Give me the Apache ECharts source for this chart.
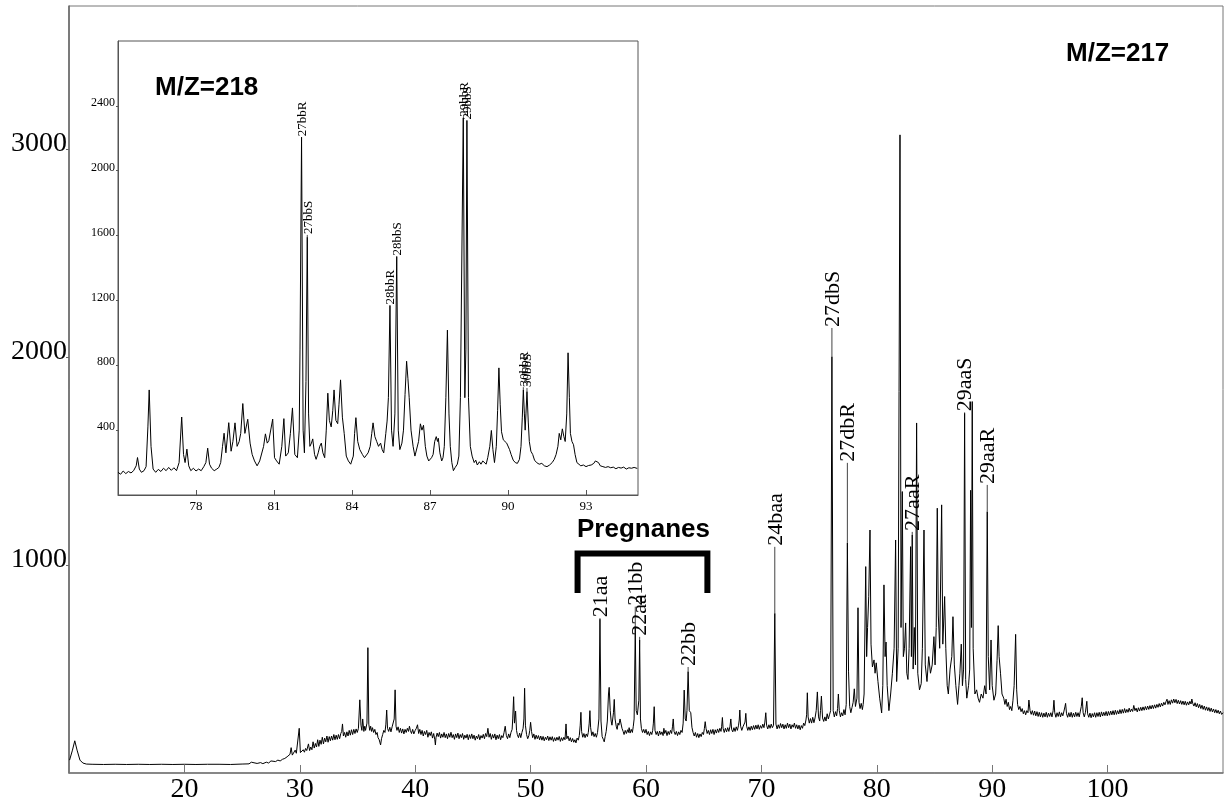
<!DOCTYPE html>
<html>
<head>
<meta charset="utf-8">
<script src="https://cdn.jsdelivr.net/npm/echarts@6/dist/echarts.min.js"></script>
<style>
  html, body { margin: 0; padding: 0; background: #fff; }
  #chart { width: 1226px; height: 809px; }
</style>
</head>
<body>
<div id="chart"></div>
<script>
// ---- m/z 217 trace: [retention time (min), abundance] ----
const mainEarly = [
  [10.05,62],[10.3,110],[10.5,155],[10.7,110],[10.95,62],[11.2,48],[11.5,43],[12,42],[13,41],[14,42],[15,41],[16,42],[17,41],[18,42],[19,41],[20,42],[21,41],[22,42],[23,42],[24,41],[25,43],
  [25.6,44],[25.8,52],[25.9,44],[26.3,46],[26.6,50],[26.8,45],[27.1,52],[27.3,48],[27.5,58],[27.6,50],[27.9,55],[28.1,62],[28.3,58],[28.5,66],[28.7,70],[28.9,78],[29.0,74],[29.15,90],[29.25,122],[29.35,86],
  [29.5,92],[29.6,110],[29.7,95],[29.85,102],[29.95,215],[30.05,98],[30.2,96],[30.3,112],[30.4,100],[30.5,118],[30.6,108],[30.75,140],[30.85,108],[30.95,125],[31.05,112],[31.15,150],[31.25,120],[31.35,142],
  [31.45,125],[31.55,160],[31.65,128],[31.75,158],[31.85,138],[31.95,172],[32.05,140],[32.15,168],[32.25,150],[32.35,178],[32.45,148],[32.55,175],[32.65,155],[32.75,178],[32.85,158],[32.95,185],
  [33.05,160],[33.15,182],[33.25,162],[33.35,185],[33.45,165],[33.55,190],[33.63,200],[33.7,236],[33.78,178],[33.88,195],[33.98,172],[34.08,198],[34.18,178],[34.28,205],[34.38,182],[34.48,208],
  [34.58,185],[34.68,210],[34.78,190],[34.88,212],[34.98,195],[35.08,215],[35.2,352],[35.3,230],[35.38,205],[35.45,260],[35.55,200],[35.63,225],[35.7,205],[35.82,240],[35.9,603],[35.98,235],
  [36.06,205],[36.14,225],[36.22,200],[36.3,218],[36.4,195],[36.5,210],[36.6,185],[36.7,195],[36.78,170],[36.88,160],[36.95,145],[37.0,135],[37.08,165],[37.18,185],[37.28,205],[37.38,195],[37.46,235],
  [37.53,303],[37.6,215],[37.7,200],[37.8,220],[37.9,198],[38.0,222],[38.1,230],[38.18,260],[38.26,400],[38.34,225],[38.42,205],[38.52,222],[38.62,195],[38.72,215],[38.82,192],[38.92,212],
  [39.02,188],[39.12,210],[39.22,195],[39.32,215],[39.42,200],[39.5,225],[39.58,205],[39.68,190],[39.78,210],[39.88,188],[40.0,205]
];
const mainPregnane = [
  [40.1,215],[40.2,232],[40.3,190],[40.4,210],[40.5,185],[40.6,205],[40.7,178],[40.8,200],[40.9,185],[41.0,205],[41.1,172],[41.2,195],[41.3,180],[41.4,198],[41.5,168],[41.6,190],[41.7,160],[41.75,135],
  [41.8,170],[41.9,192],[42.0,175],[42.1,195],[42.2,168],[42.3,188],[42.4,172],[42.5,195],[42.6,170],[42.7,188],[42.8,165],[42.9,190],[43.0,172],[43.1,196],[43.2,170],[43.3,185],[43.4,162],[43.5,188],
  [43.6,170],[43.7,192],[43.8,165],[43.9,185],[44.0,170],[44.1,190],[44.2,162],[44.3,182],[44.4,168],[44.5,186],[44.6,160],[44.7,184],[44.8,166],[44.9,188],[45.0,165],[45.1,182],[45.2,158],[45.3,178],
  [45.4,165],[45.5,185],[45.6,160],[45.7,180],[45.8,168],[45.9,186],[46.0,165],[46.1,190],[46.2,175],[46.3,215],[46.4,172],[46.5,190],[46.6,162],[46.7,185],[46.8,168],[46.9,188],[47.0,160],[47.1,182],
  [47.2,165],[47.3,185],[47.4,160],[47.5,180],[47.6,170],[47.7,195],[47.8,225],[47.9,180],[48.0,165],[48.1,188],[48.2,170],[48.3,195],[48.4,210],[48.45,260],[48.53,367],[48.6,240],[48.7,298],
  [48.78,205],[48.85,185],[48.95,170],[49.05,192],[49.15,170],[49.25,195],[49.35,215],[49.42,260],[49.48,408],[49.55,230],[49.65,185],[49.75,165],[49.85,180],[49.93,205],[50.0,244],[50.08,200],
  [50.18,170],[50.28,188],[50.38,162],[50.48,182],[50.58,165],[50.68,180],[50.78,160],[50.88,178],[50.98,158],[51.08,176],[51.18,155],[51.28,172],[51.38,160],[51.48,178],[51.58,156],[51.68,174],
  [51.78,158],[51.88,175],[51.98,152],[52.08,170],[52.18,155],[52.28,172],[52.38,158],[52.48,176],[52.58,152],[52.68,170],[52.78,156],[52.88,172],[52.98,160],[53.07,236],[53.14,165],[53.24,178],
  [53.34,155],[53.44,170],[53.54,150],[53.64,166],[53.74,148],[53.84,160],[53.93,145],[54.03,168],[54.13,158],[54.22,180],[54.3,230],[54.36,292],[54.42,200],[54.52,172],[54.62,190],[54.72,170],
  [54.82,188],[54.92,175],[55.0,195],[55.08,240],[55.14,300],[55.2,220],[55.3,180],[55.4,198],[55.5,175],[55.6,190],[55.7,172],[55.8,195],[55.92,260],[56.01,740],[56.1,250],[56.2,175],[56.3,162],
  [56.38,150],[56.46,175],[56.55,200],[56.65,250],[56.75,380],[56.81,412],[56.9,300],[56.98,250],[57.05,230],[57.18,290],[57.25,354],[57.32,260],[57.42,225],[57.5,210],[57.58,240],[57.65,230],
  [57.75,260],[57.82,265],[57.92,215],[58.02,200],[58.1,185],[58.2,205],[58.3,190],[58.4,208],[58.47,195],[58.54,218],[58.62,192],[58.72,210],[58.82,195],[58.9,225],[58.97,260],[59.07,698],
  [59.15,300],[59.25,280],[59.38,350],[59.45,640],[59.52,260],[59.6,215],[59.7,195],[59.8,210],[59.9,192],[60.0,210],[60.1,185],[60.2,200],[60.3,180],[60.4,198],[60.5,185],[60.58,205],[60.64,240],
  [60.71,319],[60.78,205],[60.88,185],[60.98,200],[61.08,178],[61.18,202],[61.28,185],[61.38,198],[61.48,180],[61.55,215],[61.62,190],[61.72,205],[61.82,180],[61.92,200],[62.02,185],[62.12,205],
  [62.22,190],[62.3,225],[62.36,260],[62.43,200],[62.53,185],[62.63,200],[62.73,180],[62.83,198],[62.93,185],[63.03,205],[63.13,195],[63.22,240],[63.31,399],[63.4,260],[63.48,250],[63.55,300],
  [63.65,488],[63.75,300],[63.88,290],[63.98,220],[64.08,195],[64.18,178],[64.28,195],[64.38,172],[64.48,190],[64.58,170],[64.68,188],[64.78,175],[64.88,195],[64.98,185],[65.06,215],[65.13,247],
  [65.2,215],[65.3,190],[65.4,205],[65.5,185],[65.6,208],[65.7,190],[65.8,210],[65.9,185],[66.0,208],[66.1,192],[66.2,212],[66.3,195],[66.4,215],[66.5,200],[66.56,225],[66.62,267],[66.68,215],
  [66.78,195],[66.88,215],[66.98,198],[67.08,218],[67.18,200],[67.28,225],[67.35,260],[67.42,210],[67.52,198],[67.62,218],[67.72,200],[67.82,222],[67.92,205],[68.02,230],[68.08,255],[68.13,303],
  [68.2,225],[68.3,205],[68.4,222],[68.5,215],[68.58,245],[68.65,287],[68.72,225],[68.82,205],[68.92,222],[69.02,205],[69.12,225],[69.22,208],[69.32,228],[69.42,210],[69.52,230],[69.62,212],
  [69.72,232],[69.82,210],[69.92,228],[70.02,215],[70.12,235],[70.22,218],[70.3,245],[70.38,290],[70.45,230],[70.55,212],[70.65,232],[70.75,215],[70.85,235],[70.95,218]
];
const mainSterane = [
  [71.05,230],[71.16,768],[71.26,235],[71.36,212],[71.46,232],[71.56,215],[71.66,238],[71.76,218],[71.86,235],[71.96,212],[72.06,232],[72.16,215],[72.26,240],[72.36,218],[72.46,235],[72.56,212],
  [72.66,232],[72.76,220],[72.86,240],[72.96,215],[73.06,232],[73.16,212],[73.26,230],[73.36,208],[73.46,228],[73.56,215],[73.66,240],[73.76,228],[73.86,255],[73.92,280],[73.98,386],[74.05,270],
  [74.15,240],[74.25,262],[74.35,240],[74.45,268],[74.55,242],[74.65,265],[74.75,300],[74.85,390],[74.95,270],[75.05,250],[75.12,300],[75.2,370],[75.3,265],[75.4,248],[75.5,270],[75.6,250],
  [75.7,285],[75.8,260],[75.9,280],[76.0,300],[76.11,2003],[76.22,300],[76.32,270],[76.42,295],[76.52,275],[76.6,310],[76.67,380],[76.75,300],[76.85,270],[76.95,290],[77.05,275],[77.15,305],
  [77.25,280],[77.35,330],[77.45,1107],[77.55,490],[77.65,320],[77.75,290],[77.85,315],[77.95,340],[78.05,405],[78.15,320],[78.28,360],[78.37,795],[78.46,340],[78.55,310],[78.65,335],[78.75,305],
  [78.82,330],[78.9,380],[79.04,993],[79.12,560],[79.2,700],[79.3,850],[79.41,1169],[79.5,620],[79.62,510],[79.76,544],[79.85,480],[79.95,530],[80.1,440],[80.25,360],[80.42,289],[80.52,420],
  [80.62,905],[80.72,560],[80.8,630],[80.9,420],[81.05,300],[81.2,380],[81.35,480],[81.5,600],[81.63,1121],[81.72,440],[81.85,600],[82.01,3070],[82.1,700],[82.21,1354],[82.3,560],[82.4,600],
  [82.5,722],[82.6,480],[82.7,450],[82.8,600],[82.93,1089],[83.0,560],[83.07,1145],[83.15,500],[83.25,700],[83.35,520],[83.45,1684],[83.55,480],[83.7,400],[83.85,430],[83.95,600],[84.09,1169],
  [84.2,520],[84.35,440],[84.5,560],[84.65,480],[84.8,520],[84.95,656],[85.05,520],[85.15,700],[85.24,1274],[85.33,760],[85.45,600],[85.62,1290],[85.72,620],[85.88,849],[85.98,600],[86.1,420],
  [86.2,380],[86.35,500],[86.5,560],[86.6,752],[86.72,520],[86.85,420],[87.0,330],[87.12,420],[87.2,480],[87.32,620],[87.42,420],[87.52,500],[87.61,1731],[87.7,450],[87.8,360],[87.95,420],
  [88.05,500],[88.13,1360],[88.2,700],[88.27,1787],[88.35,600],[88.5,380],[88.65,400],[88.78,360],[88.9,340],[89.05,380],[89.2,360],[89.35,420],[89.47,380],[89.57,1257],[89.66,560],[89.78,400],
  [89.9,640],[90.0,420],[90.15,350],[90.3,380],[90.42,540],[90.52,709],[90.6,560],[90.72,480],[90.85,380],[91.0,360],[91.1,330],[91.2,355],[91.3,320],[91.4,340],[91.5,305],[91.6,320],[91.7,300],
  [91.8,350],[91.9,420],[92.03,667],[92.12,400],[92.2,330],[92.3,305],[92.4,320],[92.5,295],[92.6,310],[92.7,285],[92.8,300],[92.9,280],[93.0,300],[93.1,290]
];
const mainLate = [
  [93.18,351],[93.28,300],[93.38,282],[93.48,300],[93.58,278],[93.68,298],[93.78,275],[93.88,295],[93.98,272],[94.08,292],[94.18,270],[94.28,290],[94.38,268],[94.48,288],[94.58,270],[94.68,292],
  [94.78,268],[94.88,288],[94.98,272],[95.08,290],[95.18,270],[95.28,300],[95.35,350],[95.42,290],[95.52,268],[95.62,290],[95.72,272],[95.82,294],[95.92,270],[96.02,290],[96.12,275],[96.22,298],
  [96.3,318],[96.36,335],[96.44,285],[96.54,268],[96.64,290],[96.74,270],[96.84,292],[96.94,268],[97.04,288],[97.14,270],[97.24,292],[97.34,272],[97.44,290],[97.54,270],[97.64,298],[97.72,320],
  [97.8,362],[97.88,290],[97.98,270],[98.08,292],[98.14,318],[98.2,345],[98.27,285],[98.37,268],[98.47,288],[98.57,266],[98.67,286],[98.77,270],[98.87,290],[98.97,268],[99.07,290],[99.17,272],
  [99.27,292],[99.37,270],[99.47,294],[99.57,274],[99.67,292],[99.77,276],[99.87,296],[99.97,275],[100.07,296],[100.17,278],[100.27,298],[100.37,280],[100.47,300],[100.57,280],[100.67,302],
  [100.77,282],[100.87,300],[100.97,284],[101.07,305],[101.17,286],[101.27,306],[101.37,288],[101.47,310],[101.57,290],[101.67,306],[101.77,292],[101.87,312],[101.97,294],[102.07,308],[102.17,296],
  [102.27,325],[102.37,300],[102.47,312],[102.57,294],[102.67,314],[102.77,298],[102.87,316],[102.97,300],[103.07,318],[103.17,302],[103.27,320],[103.37,304],[103.47,322],[103.57,306],[103.67,324],
  [103.77,308],[103.87,326],[103.97,310],[104.07,328],[104.17,312],[104.27,330],[104.37,316],[104.47,334],[104.57,318],[104.67,336],[104.77,322],[104.87,340],[104.97,328],[105.07,345],[105.15,355],
  [105.23,330],[105.33,348],[105.43,330],[105.53,352],[105.63,336],[105.73,356],[105.83,338],[105.93,354],[106.03,334],[106.13,350],[106.23,332],[106.33,348],[106.43,330],[106.53,346],[106.63,328],
  [106.73,345],[106.83,326],[106.93,342],[107.03,328],[107.13,345],[107.23,332],[107.3,356],[107.38,335],[107.48,322],[107.58,338],[107.68,318],[107.78,334],[107.88,314],[107.98,330],[108.08,310],
  [108.18,326],[108.28,306],[108.38,322],[108.48,302],[108.58,318],[108.68,300],[108.78,315],[108.88,296],[108.98,312],[109.08,294],[109.18,308],[109.28,290],[109.38,305],[109.48,288],[109.58,302],
  [109.68,285],[109.78,298],[109.88,282],[110.0,290]
];

// ---- m/z 218 trace (inset) ----
const insetTrace = [
  [75.0,140],[75.1,128],[75.2,148],[75.3,132],[75.4,145],[75.5,136],[75.6,150],[75.7,180],[75.75,231],[75.82,160],[75.9,140],[76.0,150],[76.08,175],[76.15,420],[76.2,648],[76.27,300],[76.35,160],
  [76.45,140],[76.55,158],[76.65,145],[76.75,165],[76.85,150],[76.95,170],[77.05,152],[77.15,168],[77.25,150],[77.35,200],[77.45,481],[77.52,250],[77.58,200],[77.65,283],[77.72,180],[77.8,150],
  [77.9,165],[78.0,148],[78.1,160],[78.2,150],[78.3,175],[78.38,200],[78.45,289],[78.52,190],[78.6,165],[78.7,150],[78.8,160],[78.88,170],[78.95,200],[79.02,300],[79.08,381],[79.15,260],
  [79.26,446],[79.35,270],[79.42,330],[79.5,445],[79.58,300],[79.66,330],[79.72,380],[79.8,564],[79.88,380],[79.99,467],[80.08,320],[80.16,250],[80.25,210],[80.35,180],[80.45,210],[80.52,200],
  [80.6,300],[80.67,377],[80.74,320],[80.8,335],[80.87,330],[80.95,468],[81.02,230],[81.1,210],[81.2,190],[81.3,300],[81.38,471],[81.45,240],[81.55,260],[81.63,380],[81.71,537],[81.8,250],
  [81.9,230],[81.97,400],[82.0,900],[82.06,2207],[82.12,400],[82.17,260],[82.23,700],[82.28,1590],[82.33,500],[82.38,300],[82.44,320],[82.49,346],[82.56,250],[82.62,220],[82.7,260],[82.76,300],
  [82.82,320],[82.88,260],[82.95,230],[83.01,400],[83.07,628],[83.13,460],[83.2,420],[83.26,520],[83.31,648],[83.38,460],[83.45,440],[83.5,560],[83.56,710],[83.63,480],[83.7,380],[83.78,240],
  [83.86,210],[83.95,190],[84.05,240],[84.1,380],[84.15,477],[84.22,330],[84.3,280],[84.4,250],[84.48,230],[84.55,220],[84.62,260],[84.7,300],[84.76,380],[84.81,445],[84.88,360],[84.95,330],
  [85.02,300],[85.1,320],[85.16,280],[85.22,260],[85.3,380],[85.35,456],[85.4,600],[85.46,1169],[85.52,400],[85.58,300],[85.65,500],[85.72,1471],[85.78,400],[85.84,280],[85.92,320],[85.98,400],
  [86.04,620],[86.1,825],[86.15,720],[86.2,600],[86.27,400],[86.35,300],[86.42,240],[86.48,230],[86.56,330],[86.63,439],[86.69,400],[86.75,430],[86.82,300],[86.88,240],[86.95,210],[87.0,200],
  [87.06,230],[87.12,250],[87.18,330],[87.24,360],[87.29,330],[87.32,350],[87.38,260],[87.45,210],[87.5,230],[87.55,300],[87.61,600],[87.67,1017],[87.73,500],[87.78,300],[87.84,200],[87.9,150],
  [87.97,170],[88.05,190],[88.11,240],[88.17,600],[88.22,1400],[88.28,2326],[88.34,600],[88.38,900],[88.42,2310],[88.48,600],[88.55,300],[88.62,240],[88.7,200],[88.76,215],[88.82,185],[88.9,205],
  [88.96,190],[89.03,210],[89.1,200],[89.16,190],[89.22,230],[89.3,300],[89.36,398],[89.42,280],[89.48,200],[89.55,300],[89.6,520],[89.65,784],[89.7,560],[89.75,390],[89.82,340],[89.88,330],
  [89.95,320],[90.0,310],[90.06,280],[90.12,250],[90.2,215],[90.28,200],[90.36,195],[90.44,220],[90.5,300],[90.55,480],[90.59,648],[90.63,500],[90.66,400],[90.69,500],[90.73,638],[90.78,450],
  [90.82,330],[90.88,270],[90.95,250],[91.02,215],[91.1,200],[91.2,190],[91.3,195],[91.4,180],[91.5,175],[91.6,185],[91.7,200],[91.78,220],[91.85,250],[91.92,300],[91.97,380],[92.03,340],
  [92.09,408],[92.15,360],[92.2,330],[92.26,500],[92.31,877],[92.36,600],[92.4,380],[92.46,330],[92.52,310],[92.58,250],[92.65,200],[92.72,190],[92.8,180],[92.9,185],[93.0,175],[93.1,182],
  [93.2,185],[93.3,195],[93.36,210],[93.42,220],[93.48,200],[93.55,180],[93.65,175],[93.75,170],[93.85,175],[93.95,168],[94.05,172],[94.15,162],[94.25,170],[94.35,166],[94.45,172],[94.55,160],
  [94.65,168],[94.75,165],[94.85,170],[94.97,164]
];

// ---- peak identifications ----
const mainPeakNames = ['21aa', '21bb', '22aa', '22bb', '24baa', '27dbS', '27dbR', '27aaR', '29aaS', '29aaR'];
const mainPeakTimes = [56.01, 59.07, 59.45, 63.65, 71.16, 76.11, 77.45, 83.07, 87.61, 89.57];
const mainLabelLevels = [745, 800, 655, 510, 1088, 2141, 1492, 1160, 1735, 1386];

const insetPeakNames = ['27bbR', '27bbS', '28bbR', '28bbS', '29bbR', '29bbS', '30bbR', '30bbS'];
const insetPeakTimes = [82.06, 82.28, 85.46, 85.72, 88.28, 88.42, 90.59, 90.73];
const insetLabelLevels = [2207, 1604, 1169, 1471, 2326, 2310, 665, 660];

// Pregnanes bracket outline (time, abundance)
const pregnaneBracket = [[54.07, 866], [54.07, 1056], [65.32, 1056], [65.32, 866]];

// ---- axis ticks ----
const mainTimeTicks = [20, 30, 40, 50, 60, 70, 80, 90, 100];
const mainAbundanceTicks = [1000, 2000, 3000];
const insetTimeTicks = [78, 81, 84, 87, 90, 93];
const insetAbundanceTicks = [400, 800, 1200, 1600, 2000, 2400];

const mainTrace = [].concat(mainEarly, mainPregnane, mainSterane, mainLate);

function peakValue(trace, t) {
  const p = trace.find(d => d[0] === t);
  return p ? p[1] : 0;
}

const SERIF = '"Liberation Serif", "Times New Roman", serif';
const SANS = '"Liberation Sans", Arial, sans-serif';
const plain = v => String(v);

function labelRenderer(names, fontSize, dx) {
  return function (params, api) {
    const t = api.value(0);
    const top = api.coord([t, api.value(1)]);
    const lab = api.coord([t, api.value(2)]);
    return {
      type: 'group',
      children: [
        {
          type: 'line',
          shape: { x1: top[0], y1: top[1], x2: lab[0], y2: lab[1] },
          style: { stroke: '#444', lineWidth: 1 }
        },
        {
          type: 'text',
          x: lab[0] + dx,
          y: lab[1] - 1,
          rotation: Math.PI / 2,
          style: {
            text: names[params.dataIndex],
            font: fontSize + 'px ' + SERIF,
            fill: '#000',
            align: 'left',
            verticalAlign: 'middle'
          }
        }
      ]
    };
  };
}

const chart = echarts.init(document.getElementById('chart'), null, { renderer: 'canvas' });

chart.setOption({
  animation: false,
  backgroundColor: '#fff',
  grid: [
    { left: 69, right: 3, top: 6, bottom: 36, show: true, borderColor: '#777', borderWidth: 1, backgroundColor: 'transparent' },
    { left: 118, top: 41, width: 520, height: 454, show: true, borderColor: '#555', borderWidth: 1, backgroundColor: '#fff', z: 5 }
  ],
  xAxis: [
    {
      gridIndex: 0, type: 'value', min: 10, max: 110, interval: 10,
      axisLine: { lineStyle: { color: '#777', width: 1.5 } },
      axisTick: { inside: true, length: 8, lineStyle: { color: '#777' }, customValues: mainTimeTicks },
      axisLabel: {
        customValues: mainTimeTicks, formatter: plain,
        fontFamily: SERIF, fontSize: 28, color: '#000', margin: 3
      },
      splitLine: { show: false }
    },
    {
      gridIndex: 1, type: 'value', min: 75, max: 95, interval: 3,
      axisLine: { lineStyle: { color: '#555' } },
      axisTick: { inside: true, length: 5, lineStyle: { color: '#555' }, customValues: insetTimeTicks },
      axisLabel: {
        customValues: insetTimeTicks, formatter: plain,
        fontFamily: SERIF, fontSize: 13, color: '#000', margin: 5
      },
      splitLine: { show: false },
      z: 6
    }
  ],
  yAxis: [
    {
      gridIndex: 0, type: 'value', min: 0, max: 3690, interval: 1000,
      axisLine: { show: true, lineStyle: { color: '#666', width: 1.5 } },
      axisTick: { show: true, length: 3, lineStyle: { color: '#666' }, customValues: mainAbundanceTicks },
      axisLabel: {
        customValues: mainAbundanceTicks, formatter: plain,
        fontFamily: SERIF, fontSize: 28, color: '#000', margin: 2,
        verticalAlign: 'bottom', lineHeight: 12
      },
      splitLine: { show: false }
    },
    {
      gridIndex: 1, type: 'value', min: 0, max: 2800, interval: 400,
      axisLine: { show: true, lineStyle: { color: '#555' } },
      axisTick: { show: true, length: 2, lineStyle: { color: '#555' }, customValues: insetAbundanceTicks },
      axisLabel: {
        customValues: insetAbundanceTicks, formatter: plain,
        fontFamily: SERIF, fontSize: 12, color: '#000', margin: 3,
        verticalAlign: 'bottom', lineHeight: 6
      },
      splitLine: { show: false },
      z: 6
    }
  ],
  graphic: [
    { type: 'text', x: 155, y: 88, z: 100, style: { text: 'M/Z=218', font: 'bold 26px ' + SANS, fill: '#000', align: 'left', verticalAlign: 'middle' } },
    { type: 'text', x: 1066, y: 54, z: 100, style: { text: 'M/Z=217', font: 'bold 26px ' + SANS, fill: '#000', align: 'left', verticalAlign: 'middle' } },
    { type: 'text', x: 577, y: 530, z: 100, style: { text: 'Pregnanes', font: 'bold 26px ' + SANS, fill: '#000', align: 'left', verticalAlign: 'middle' } }
  ],
  series: [
    {
      name: 'm/z 217', type: 'line', xAxisIndex: 0, yAxisIndex: 0,
      data: mainTrace, showSymbol: false, symbol: 'none',
      lineStyle: { color: '#000', width: 1 }, z: 2
    },
    {
      name: 'Pregnanes', type: 'line', xAxisIndex: 0, yAxisIndex: 0,
      data: pregnaneBracket, showSymbol: false, symbol: 'none',
      lineStyle: { color: '#000', width: 6, cap: 'butt', join: 'miter' }, z: 3
    },
    {
      name: 'm/z 217 peaks', type: 'custom', xAxisIndex: 0, yAxisIndex: 0,
      data: mainPeakTimes.map((t, i) => [t, peakValue(mainTrace, t), mainLabelLevels[i]]),
      renderItem: labelRenderer(mainPeakNames, 22, 1), z: 4
    },
    {
      name: 'm/z 218', type: 'line', xAxisIndex: 1, yAxisIndex: 1,
      data: insetTrace, showSymbol: false, symbol: 'none',
      lineStyle: { color: '#000', width: 1 }, z: 10
    },
    {
      name: 'm/z 218 peaks', type: 'custom', xAxisIndex: 1, yAxisIndex: 1,
      data: insetPeakTimes.map((t, i) => [t, peakValue(insetTrace, t), insetLabelLevels[i]]),
      renderItem: labelRenderer(insetPeakNames, 13, 1), z: 11
    }
  ]
});
</script>
</body>
</html>
